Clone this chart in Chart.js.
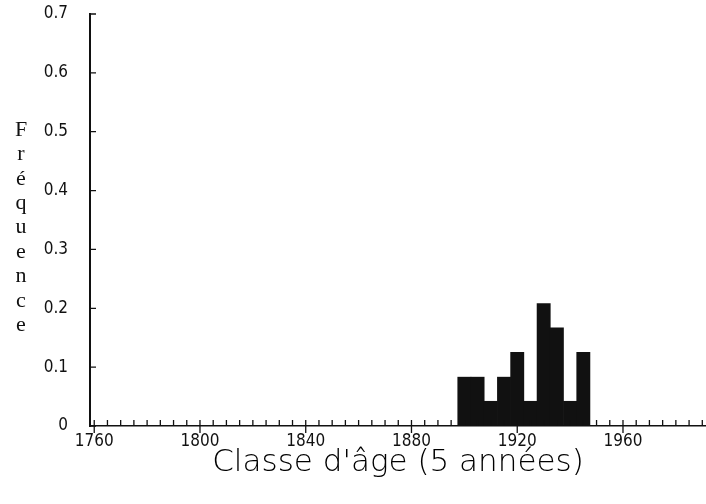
<!DOCTYPE html>
<html>
<head>
<meta charset="utf-8">
<script src="https://cdn.jsdelivr.net/npm/chart.js@4"></script>
<style>
html, body { margin: 0; padding: 0; background: #fff; }
#wrap { width: 706px; height: 504px; }
</style>
</head>
<body>
<div id="wrap"><canvas id="histo"></canvas></div>
<script>
var classes = [1900, 1905, 1910, 1915, 1920, 1925, 1930, 1935, 1940, 1945];
var frequencies = [0.083, 0.083, 0.042, 0.083, 0.125, 0.042, 0.208, 0.167, 0.042, 0.125];
var xTickLabels = [1760, 1800, 1840, 1880, 1920, 1960];
var yTickLabels = [0, 0.1, 0.2, 0.3, 0.4, 0.5, 0.6, 0.7];
var xTitle = "Classe d'âge (5 années)";
var yTitle = 'Fréquence';
var ink = '#111';

var points = classes.map(function (c, i) { return { x: c, y: frequencies[i] }; });
var tickFont = { family: '"Liberation Sans Narrow", "DejaVu Sans Condensed", sans-serif', size: 17 };

// small ticks every 5 years pointing up, labelled years cross the axis; y ticks point inward
var axisTicks = {
  id: 'axisTicks',
  afterDraw: function (chart) {
    var ctx = chart.ctx, x = chart.scales.x, y = chart.scales.y;
    var y0 = y.getPixelForValue(0), x0 = chart.chartArea.left;
    ctx.save();
    ctx.strokeStyle = ink;
    ctx.lineWidth = 1.3;
    ctx.beginPath();
    for (var yr = 1760; yr <= 1990; yr += 5) {
      var px = x.getPixelForValue(yr);
      var major = xTickLabels.indexOf(yr) >= 0;
      ctx.moveTo(px, major ? y0 + 7 : y0);
      ctx.lineTo(px, y0 - 6);
    }
    yTickLabels.forEach(function (v) {
      var py = y.getPixelForValue(v);
      ctx.moveTo(x0, py);
      ctx.lineTo(x0 + 6, py);
    });
    ctx.stroke();

    // stacked letters for the y title
    ctx.fillStyle = ink;
    ctx.font = '22px "Liberation Serif", serif';
    ctx.textAlign = 'center';
    ctx.textBaseline = 'middle';
    for (var i = 0; i < yTitle.length; i++) {
      ctx.fillText(yTitle[i], 21, 130 + i * 24.4);
    }
    ctx.restore();
  }
};

new Chart(document.getElementById('histo'), {
  type: 'bar',
  data: {
    datasets: [{
      data: points,
      backgroundColor: ink,
      borderWidth: 0,
      barPercentage: 1,
      categoryPercentage: 1
    }]
  },
  options: {
    responsive: true,
    maintainAspectRatio: false,
    animation: false,
    layout: { padding: { left: 30, top: 14, right: 0, bottom: 18 } },
    plugins: { legend: { display: false }, tooltip: { enabled: false } },
    scales: {
      x: {
        type: 'linear',
        min: 1758.4,
        max: 1991.4,
        offset: false,
        afterBuildTicks: function (s) {
          s.ticks = xTickLabels.map(function (v) { return { value: v }; });
        },
        afterFit: function (s) { s.height = 60; s.paddingLeft = 0; s.paddingRight = 0; },
        grid: { display: false },
        border: { display: true, color: ink, width: 1.5 },
        ticks: {
          autoSkip: false,
          maxRotation: 0,
          padding: -3,
          color: ink,
          font: tickFont,
          callback: function (v) { return String(v); }
        },
        title: {
          display: true,
          text: xTitle,
          color: '#000',
          font: { family: '"DejaVu Sans", sans-serif', size: 31, weight: 200 },
          padding: { top: 0, bottom: 4 }
        }
      },
      y: {
        min: 0,
        max: 0.7,
        afterBuildTicks: function (s) {
          s.ticks = yTickLabels.map(function (v) { return { value: v }; });
        },
        afterFit: function (s) { s.width = 60; s.paddingTop = 0; s.paddingBottom = 0; },
        grid: { display: false },
        border: { display: true, color: ink, width: 2 },
        ticks: {
          padding: 14,
          color: ink,
          font: tickFont,
          callback: function (v) { return v === 0 ? '0' : v.toFixed(1); }
        }
      }
    }
  },
  plugins: [axisTicks]
});
</script>
</body>
</html>
